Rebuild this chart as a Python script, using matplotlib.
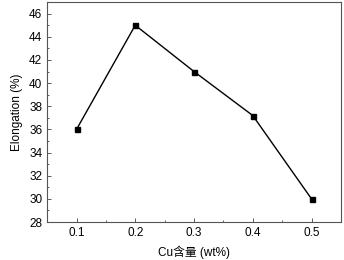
import matplotlib
matplotlib.use("Agg")
import matplotlib.pyplot as plt
from matplotlib.ticker import MultipleLocator

plt.rcParams['font.family'] = ['Liberation Sans', 'Noto Sans CJK SC', 'DejaVu Sans']

cu_content = [0.1, 0.2, 0.3, 0.4, 0.5]
elongation = [36.0, 45.0, 41.0, 37.2, 30.0]

fig = plt.figure(figsize=(3.44, 2.6), dpi=100)
ax = fig.add_axes([0.137, 0.146, 0.854, 0.846])
ax.plot(cu_content, elongation, color='black', linewidth=1.0, marker='s', markersize=3.6)
ax.set_xlim(0.05, 0.55)
ax.set_ylim(28, 47)
ax.xaxis.set_major_locator(MultipleLocator(0.1))
ax.xaxis.set_minor_locator(MultipleLocator(0.05))
ax.yaxis.set_major_locator(MultipleLocator(2))
ax.yaxis.set_minor_locator(MultipleLocator(1))
ax.tick_params(which='both', direction='in', labelsize=8.5, width=0.6, color='#444444')
ax.tick_params(which='major', length=3)
ax.tick_params(which='minor', length=1.5)
for s in ax.spines.values():
    s.set_linewidth(0.8)
    s.set_color('#555555')
ax.set_xlabel('Cu含量 (wt%)', fontsize=8.5, labelpad=5)
ax.set_ylabel('Elongation (%)', fontsize=8.5, labelpad=4)
fig.savefig('out.png', dpi=100)
